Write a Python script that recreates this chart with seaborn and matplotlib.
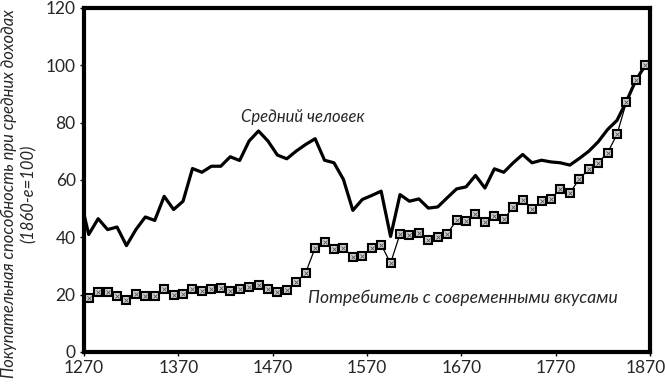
import numpy as np
import pandas as pd
import matplotlib
matplotlib.use("Agg")
import matplotlib.pyplot as plt
import matplotlib.transforms as mtransforms
import seaborn as sns

# --- data ---
years_avg = [1270, 1275, 1285, 1295, 1305, 1315, 1325, 1335, 1345, 1355, 1365,
             1375, 1385, 1395, 1405, 1415, 1425, 1435, 1445, 1455, 1465,
             1475, 1485, 1495, 1505, 1515, 1525, 1535, 1545, 1555, 1565,
             1575, 1585, 1595, 1605, 1615, 1625, 1635, 1645, 1655, 1665,
             1675, 1685, 1695, 1705, 1715, 1725, 1735, 1745, 1755, 1765,
             1775, 1785, 1795, 1805, 1815, 1825, 1835, 1845, 1855, 1865]
avg_person = [48, 41.0, 46.5, 42.7, 43.6, 37.1, 42.7, 47.1, 45.9, 54.3, 49.7,
              52.6, 64.0, 62.7, 64.8, 64.8, 68.1, 66.8, 73.6, 77.1, 73.6,
              68.7, 67.4, 70.1, 72.4, 74.4, 66.9, 66.0, 60.2, 49.4, 53.2,
              54.6, 56.1, 40.3, 54.9, 52.6, 53.4, 50.2, 50.6, 53.8, 56.9,
              57.6, 61.6, 57.2, 63.9, 62.7, 66.0, 68.9, 66.0, 66.9, 66.3,
              66.0, 65.2, 67.5, 70.0, 73.3, 77.6, 80.8, 87.4, 94.8, 100.0]

years_mod = [1275, 1285, 1295, 1305, 1315, 1325, 1335, 1345, 1355, 1365,
             1375, 1385, 1395, 1405, 1415, 1425, 1435, 1445, 1455, 1465,
             1475, 1485, 1495, 1505, 1515, 1525, 1535, 1545, 1555, 1565,
             1575, 1585, 1595, 1605, 1615, 1625, 1635, 1645, 1655, 1665,
             1675, 1685, 1695, 1705, 1715, 1725, 1735, 1745, 1755, 1765,
             1775, 1785, 1795, 1805, 1815, 1825, 1835, 1845, 1855, 1865]
modern_tastes = [19.0, 21.1, 20.9, 19.4, 18.0, 20.2, 19.4, 19.6, 22.0, 19.9,
                 20.2, 21.9, 21.4, 21.9, 22.5, 21.4, 22.0, 22.8, 23.4, 22.0,
                 21.1, 21.8, 24.4, 27.7, 36.3, 38.2, 35.9, 36.3, 33.1, 33.6,
                 36.3, 37.4, 31.0, 41.2, 40.9, 41.5, 39.2, 40.1, 41.3, 45.9,
                 45.8, 48.3, 45.2, 47.6, 46.4, 50.5, 52.9, 49.9, 52.6, 53.5,
                 56.9, 55.4, 60.4, 63.7, 66.0, 69.5, 75.9, 87.2, 94.8, 100.0]

x_ticks = [1270, 1370, 1470, 1570, 1670, 1770, 1870]
y_ticks = [0, 20, 40, 60, 80, 100, 120]

label_avg = "Средний человек"
label_mod = "Потребитель с современными вкусами"
y_label = "Покупательная способность при средних доходах\n(1860-е=100)"

df_avg = pd.DataFrame({"year": years_avg, "value": avg_person})
df_mod = pd.DataFrame({"year": years_mod, "value": modern_tastes})

# --- style ---
sns.set_theme(style="white")
plt.rcParams["font.family"] = ["Lato", "DejaVu Sans"]

fig = plt.figure(figsize=(6.65, 3.9), dpi=100)
ax = fig.add_axes([84 / 665, 38 / 390, (650 - 84) / 665, (382 - 38) / 390])

sns.lineplot(data=df_avg, x="year", y="value", ax=ax, color="black",
             linewidth=2.3, zorder=3)
sns.lineplot(data=df_mod, x="year", y="value", ax=ax, color="black",
             linewidth=0.9, marker="s", markersize=5.5,
             markerfacecolor="#d0d0d0", markeredgecolor="black",
             markeredgewidth=1.5, zorder=4)
ax.plot(df_mod["year"], df_mod["value"], linestyle="none", marker="x",
        markersize=2.2, color="#555555", markeredgewidth=0.6, zorder=5)

ax.set_xlim(1270, 1870)
ax.set_ylim(0, 120)
ax.set_xticks(x_ticks)
ax.set_yticks(y_ticks)
ax.tick_params(axis="both", labelsize=12.5, direction="out", length=3,
               width=1, color="black", pad=3, bottom=True, left=True)
ax.set_xlabel("")
ax.set_ylabel(y_label, fontsize=11.9, style="italic", linespacing=1.3)
ax.yaxis.set_label_coords(-0.083, 0.46)

# nudge last x tick label so it stays inside the figure
fig.canvas.draw()
last = ax.get_xticklabels()[-1]
last.set_transform(last.get_transform() +
                   mtransforms.ScaledTranslation(-4 / 100, 0, fig.dpi_scale_trans))

for s in ax.spines.values():
    s.set_visible(True)
    s.set_color("black")
    s.set_linewidth(3)

ax.text(1436, 82, label_avg, fontsize=12, style="italic", va="center",
        ha="left")
ax.text(1507, 19, label_mod, fontsize=12.6, style="italic", va="center",
        ha="left")

fig.savefig("out.png", dpi=100)
